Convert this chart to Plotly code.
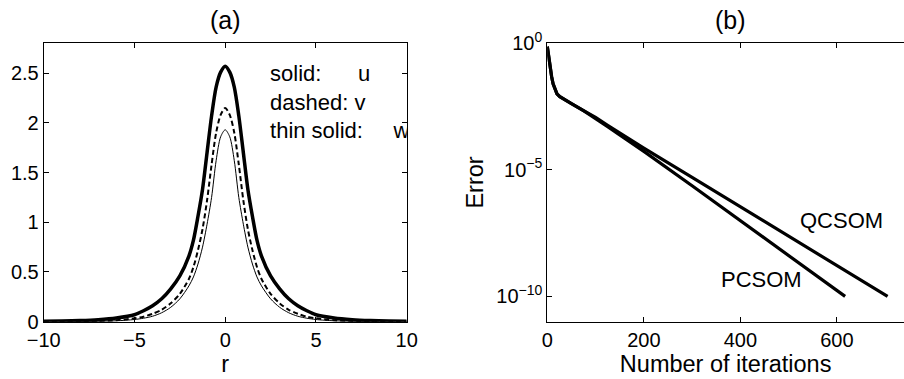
import numpy as np
import plotly.graph_objects as go

# ---- panel (a) data ----
r = [-10, -9, -8, -7, -6, -5, -4.5, -4, -3.5, -3, -2.5, -2, -1.75, -1.5, -1.25, -1, -0.75, -0.5, -0.25, 0,
     0.25, 0.5, 0.75, 1, 1.25, 1.5, 1.75, 2, 2.5, 3, 3.5, 4, 4.5, 5, 6, 7, 8, 9, 10]
u = [0.004, 0.006, 0.011, 0.02, 0.037, 0.07, 0.11, 0.16, 0.23, 0.33, 0.46, 0.66, 0.82, 1.06, 1.33, 1.70, 2.07, 2.36, 2.51, 2.57,
     2.51, 2.36, 2.07, 1.70, 1.33, 1.06, 0.82, 0.66, 0.46, 0.33, 0.23, 0.16, 0.11, 0.07, 0.037, 0.02, 0.011, 0.006, 0.004]
v = [0.001, 0.002, 0.0035, 0.007, 0.015, 0.034, 0.05, 0.08, 0.12, 0.185, 0.28, 0.43, 0.55, 0.72, 0.93, 1.22, 1.58, 1.90, 2.08, 2.15,
     2.08, 1.90, 1.58, 1.22, 0.93, 0.72, 0.55, 0.43, 0.28, 0.185, 0.12, 0.08, 0.05, 0.034, 0.015, 0.007, 0.0035, 0.002, 0.001]
w = [0.0004, 0.0009, 0.002, 0.004, 0.009, 0.022, 0.035, 0.055, 0.09, 0.145, 0.23, 0.36, 0.45, 0.58, 0.75, 0.98, 1.25, 1.62, 1.86, 1.93,
     1.86, 1.62, 1.25, 0.98, 0.75, 0.58, 0.45, 0.36, 0.23, 0.145, 0.09, 0.055, 0.035, 0.022, 0.009, 0.004, 0.002, 0.0009, 0.0004]
legend_lines = ["solid:\u00a0\u00a0\u00a0\u00a0\u00a0\u00a0u", "dashed: v", "thin solid:\u00a0\u00a0\u00a0\u00a0\u00a0w"]
legend_x = [2.47, 2.47, 2.47]
legend_y = [2.48, 2.18, 1.90]

# ---- panel (b) data (log10 of error) ----
it_p = [0, 3, 6, 9, 12, 16, 20, 26, 35, 50, 75, 100, 125, 150, 200, 300, 400, 500, 600, 617]
log_err_p = [-0.13, -0.6, -1.0, -1.32, -1.6, -1.85, -2.0, -2.11, -2.22, -2.38, -2.66, -2.96, -3.29, -3.62, -4.27,
             -5.63, -7.0, -8.39, -9.77, -10.0]
it_q = [0, 3, 6, 9, 12, 16, 20, 26, 35, 50, 75, 100, 125, 150, 200, 300, 400, 500, 600, 705]
log_err_q = [-0.13, -0.6, -1.0, -1.32, -1.6, -1.85, -2.0, -2.11, -2.22, -2.38, -2.66, -2.93, -3.24, -3.55, -4.14,
             -5.30, -6.46, -7.62, -8.78, -10.0]
err_p = np.power(10.0, log_err_p)
err_q = np.power(10.0, log_err_q)

FONT = "Liberation Sans, Arial, Helvetica, sans-serif"
W, H = 904, 379

fig = go.Figure()
fig.add_trace(go.Scatter(x=r, y=w, mode="lines", line=dict(color="black", width=1, shape="spline", smoothing=0.8),
                         xaxis="x", yaxis="y", showlegend=False))
fig.add_trace(go.Scatter(x=r, y=v, mode="lines", line=dict(color="black", width=2, dash="5px,3px", shape="spline", smoothing=0.8),
                         xaxis="x", yaxis="y", showlegend=False))
fig.add_trace(go.Scatter(x=r, y=u, mode="lines", line=dict(color="black", width=3.5, shape="spline", smoothing=0.8),
                         xaxis="x", yaxis="y", showlegend=False))
fig.add_trace(go.Scatter(x=legend_x, y=legend_y, mode="text", text=legend_lines, textposition="middle right",
                         textfont=dict(family=FONT, size=22, color="black"), cliponaxis=True,
                         xaxis="x", yaxis="y", showlegend=False, hoverinfo="skip"))
fig.add_trace(go.Scatter(x=it_p, y=err_p, mode="lines", line=dict(color="black", width=3.2),
                         xaxis="x2", yaxis="y2", showlegend=False))
fig.add_trace(go.Scatter(x=it_q, y=err_q, mode="lines", line=dict(color="black", width=3.2),
                         xaxis="x2", yaxis="y2", showlegend=False))

ydom = [1 - 321.7 / H, 1 - 43.3 / H]
axcommon = dict(showgrid=False, zeroline=False, showline=True, linecolor="black", linewidth=1, automargin=False,
                ticks="inside", ticklen=5, tickcolor="black", tickfont=dict(family=FONT, size=20, color="black"))

fig.update_layout(
    template="none",
    width=W, height=H,
    margin=dict(l=0, r=0, t=0, b=0, autoexpand=False),
    paper_bgcolor="white", plot_bgcolor="white",
    font=dict(family=FONT, color="black"),
    xaxis=dict(domain=[43.7 / W, 406.7 / W], range=[-10, 10], anchor="y", mirror="ticks",
               tickvals=[-10, -5, 0, 5, 10], ticktext=["\u221210", "\u22125", "0", "5", "10"],
               title=dict(text="r", font=dict(family=FONT, size=23.5), standoff=2), **axcommon),
    yaxis=dict(domain=ydom, range=[0, 2.8], anchor="x", mirror="ticks",
               tickvals=[0, 0.5, 1, 1.5, 2, 2.5], ticktext=["0", "0.5", "1", "1.5", "2", "2.5"], **axcommon),
    xaxis2=dict(domain=[547.3 / W, 1.0], range=[0, 739], anchor="y2", mirror="ticks",
                tickvals=[0, 200, 400, 600], ticktext=["0", "200", "400", "600"],
                title=dict(text="Number of iterations", font=dict(family=FONT, size=23.5), standoff=2), **axcommon),
    yaxis2=dict(domain=ydom, type="log", range=[-11, 0], anchor="x2", mirror=False,
                tickvals=[1, 1e-5, 1e-10], ticktext=["10<sup>0</sup>", "10<sup>\u22125</sup>", "10<sup>\u221210</sup>"],
                title=dict(text="Error", font=dict(family=FONT, size=23.5), standoff=6), **axcommon),
    annotations=[
        dict(text="(a)", x=225 / W, y=1 - 20 / H, xref="paper", yref="paper", showarrow=False,
             font=dict(family=FONT, size=25), xanchor="center", yanchor="middle"),
        dict(text="(b)", x=730 / W, y=1 - 20 / H, xref="paper", yref="paper", showarrow=False,
             font=dict(family=FONT, size=25), xanchor="center", yanchor="middle"),
        dict(text="QCSOM", x=798 / W, y=1 - 220 / H, xref="paper", yref="paper", showarrow=False,
             font=dict(family=FONT, size=22), xanchor="left", yanchor="middle"),
        dict(text="PCSOM", x=719 / W, y=1 - 279 / H, xref="paper", yref="paper", showarrow=False,
             font=dict(family=FONT, size=22), xanchor="left", yanchor="middle"),
    ],
)

fig.write_html("out.html")
